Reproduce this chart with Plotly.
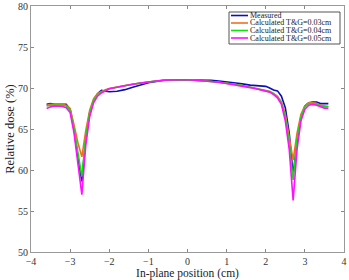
import plotly.graph_objects as go

x_pos = [-3.6, -3.5, -3.4, -3.3, -3.2, -3.1, -3.0, -2.9, -2.8, -2.7, -2.6, -2.5, -2.4, -2.3, -2.2,
         -2.1, -2.0, -1.8, -1.6, -1.4, -1.2, -1.0, -0.8, -0.6, -0.4, -0.2, 0.0, 0.2, 0.4, 0.6,
         0.8, 1.0, 1.2, 1.4, 1.6, 1.8, 2.0, 2.1, 2.2, 2.3, 2.4, 2.5, 2.6, 2.7, 2.8, 2.9, 3.0,
         3.1, 3.2, 3.3, 3.4, 3.5, 3.6]

measured = [68.0, 68.1, 68.0, 68.0, 68.0, 68.0, 67.4, 65.0, 61.5, 58.6, 64.0, 67.0, 68.5, 69.3, 69.7,
            69.6, 69.55, 69.6, 69.8, 70.1, 70.4, 70.65, 70.8, 70.95, 71.0, 71.0, 71.0, 71.0, 71.0, 70.95,
            70.85, 70.75, 70.65, 70.5, 70.35, 70.25, 70.2, 70.0, 69.75, 69.65, 69.0, 67.6, 64.5, 59.4, 63.5, 66.5, 67.8,
            68.2, 68.3, 68.3, 68.1, 68.1, 68.1]

calc_003 = [67.9, 68.0, 68.0, 68.0, 68.0, 67.9, 67.5, 65.5, 63.3, 61.6, 64.8, 67.3, 68.7, 69.3, 69.6,
            69.8, 69.95, 70.15, 70.3, 70.45, 70.6, 70.75, 70.85, 70.95, 71.0, 71.0, 71.0, 70.95, 70.9, 70.8,
            70.7, 70.6, 70.45, 70.3, 70.1, 69.95, 69.75, 69.6, 69.35, 69.0, 68.3, 66.8, 64.0, 61.2, 64.5, 66.8, 67.8,
            68.2, 68.2, 68.1, 67.9, 67.8, 67.75]

calc_004 = [67.8, 67.9, 67.9, 67.9, 67.9, 67.8, 67.3, 65.0, 62.0, 59.2, 64.0, 67.0, 68.5, 69.2, 69.5,
            69.75, 69.9, 70.1, 70.3, 70.45, 70.6, 70.75, 70.85, 70.95, 71.0, 71.0, 71.0, 70.95, 70.9, 70.8,
            70.7, 70.6, 70.45, 70.3, 70.1, 69.9, 69.7, 69.55, 69.3, 68.9, 68.2, 66.5, 63.3, 58.8, 63.8, 66.5, 67.7,
            68.1, 68.1, 68.0, 67.8, 67.7, 67.7]

calc_005 = [67.5, 67.7, 67.8, 67.8, 67.75, 67.6, 67.0, 64.5, 61.0, 57.0, 63.0, 66.5, 68.2, 69.0, 69.4,
            69.7, 69.9, 70.1, 70.3, 70.45, 70.6, 70.75, 70.85, 70.95, 71.0, 71.0, 71.0, 70.95, 70.9, 70.8,
            70.7, 70.55, 70.4, 70.25, 70.05, 69.85, 69.65, 69.5, 69.2, 68.8, 68.0, 66.0, 62.5, 56.3, 62.5, 66.0, 67.4,
            67.9, 68.0, 67.9, 67.7, 67.55, 67.5]

series_names = ["Measured", "Calculated T&G=0.03cm", "Calculated T&G=0.04cm", "Calculated T&G=0.05cm"]
series_values = [measured, calc_003, calc_004, calc_005]
series_colors = ["#0a10b8", "#f0701e", "#10e010", "#ff10ff"]

x_ticks = [-4, -3, -2, -1, 0, 1, 2, 3, 4]
y_ticks = [50, 55, 60, 65, 70, 75, 80]

FONT = "Liberation Serif, Times New Roman, serif"

fig = go.Figure()
for name, vals, col in zip(series_names, series_values, series_colors):
    fig.add_trace(go.Scatter(x=x_pos, y=vals, mode="lines", name=name,
                             line=dict(color=col, width=1.6), showlegend=False))

# compact manual legend like the reference
W, H = 349, 280
ml, mr, mt, mb = 31, 5, 6, 28
pw, ph = W - ml - mr, H - mt - mb

def px(xp):
    return (xp - ml) / pw

def py(yp):
    return 1 - (yp - mt) / ph

fig.add_shape(type="rect", xref="paper", yref="paper",
              x0=px(229), x1=px(340), y0=py(44), y1=py(12),
              line=dict(color="#555555", width=1), fillcolor="white", layer="above")
row_y = [15.5, 23, 30.5, 38]
for name, col, ry in zip(series_names, series_colors, row_y):
    fig.add_shape(type="line", xref="paper", yref="paper",
                  x0=px(231), x1=px(248), y0=py(ry), y1=py(ry),
                  line=dict(color=col, width=1.6), layer="above")
    fig.add_annotation(xref="paper", yref="paper", x=px(248.5), y=py(ry), text=name,
                       showarrow=False, xanchor="left", yanchor="middle",
                       font=dict(family=FONT, size=8, color="#222222"),
                       borderpad=0)

fig.update_layout(
    width=W, height=H,
    margin=dict(l=ml, r=mr, t=mt, b=mb, autoexpand=False),
    plot_bgcolor="white", paper_bgcolor="white",
    font=dict(family=FONT, color="#333333"),
)
fig.update_xaxes(range=[-4, 4], tickvals=x_ticks, ticks="inside", ticklen=3,
                 tickcolor="#888888", showline=True, linecolor="#999999", linewidth=1,
                 mirror="ticks", showgrid=False, zeroline=False, automargin=False,
                 tickfont=dict(size=10, family=FONT),
                 title=dict(text="In-plane position (cm)", font=dict(size=11.5, family=FONT, color="#222222"),
                            standoff=0))
fig.update_yaxes(range=[50, 80], tickvals=y_ticks, ticks="inside", ticklen=3,
                 tickcolor="#888888", showline=True, linecolor="#999999", linewidth=1,
                 mirror="ticks", showgrid=False, zeroline=False, automargin=False,
                 tickfont=dict(size=10, family=FONT),
                 title=dict(text="Relative dose (%)", font=dict(size=12.5, family=FONT, color="#222222"),
                            standoff=0))

fig.write_html("out.html", config={"displayModeBar": False},
               post_script="document.body.style.margin='0';document.body.style.padding='0';")
